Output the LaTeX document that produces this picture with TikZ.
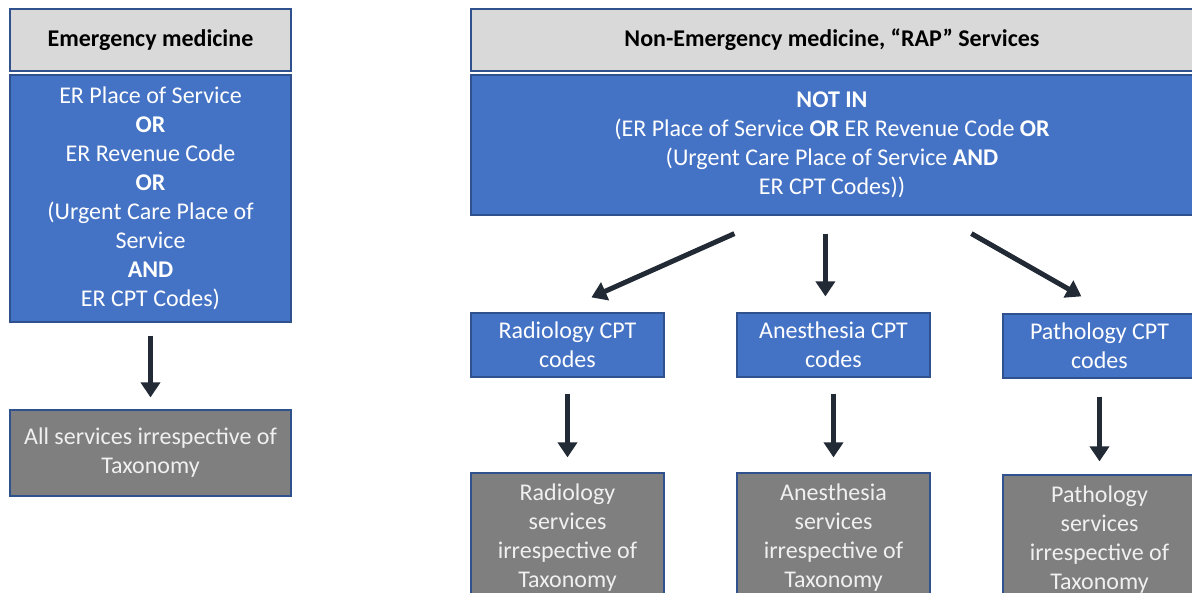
\documentclass[tikz,border=0pt]{standalone}
\usepackage{fontspec}
\setmainfont{Carlito}
\usepackage{tikz}
\usetikzlibrary{arrows.meta}
\usetikzlibrary{positioning}
\definecolor{hdrgray}{HTML}{D9D9D9}
\definecolor{accblue}{HTML}{4472C4}
\definecolor{servgray}{HTML}{7F7F7F}
\definecolor{edgeblue}{HTML}{2F528F}
\definecolor{arrdark}{HTML}{222A35}
\tikzset{
    box/.style={
        draw=edgeblue,
        line width=1.2pt,
        inner sep=0pt,
        align=center,
        font=\fontsize{24}{29}\selectfont
    },
    hdr/.style={box, fill=hdrgray, text=black, font=\fontsize{24}{29}\selectfont\bfseries},
    crit/.style={box, fill=accblue, text=white},
    serv/.style={box, fill=servgray, text=white!94!black},
    flow/.style={
        draw=arrdark,
        line width=5pt,
        -{Triangle[length=15pt, width=19pt]}
    }
}

\begin{document}
\begin{tikzpicture}[x=1pt, y=-1pt]
    \useasboundingbox (0,0) rectangle (1192,592);
    \clip (0,0) rectangle (1192,592);

    % emergency column
    \node[hdr, minimum width=281pt, minimum height=62pt] (emhead) at (150.5,40) {Emergency medicine};
    \node[crit, minimum width=281pt, minimum height=247pt] (emcrit) at (150.5,198.5) {ER Place of Service\\\textbf{OR}\\ER Revenue Code\\\textbf{OR}\\(Urgent Care Place of\\Service\\\textbf{AND}\\ER CPT Codes)};
    \node[serv, minimum width=281pt, minimum height=86pt] (emserv) at (150.5,453) {All services irrespective of\\Taxonomy};

    % non-emergency column
    \node[hdr, minimum width=722pt, minimum height=62pt] (rhead) at (832,40) {Non-Emergency medicine, “RAP” Services};
    \node[crit, minimum width=722pt, minimum height=140pt] (rcrit) at (832,145) {\textbf{NOT IN}\\(ER Place of Service \textbf{OR} ER Revenue Code \textbf{OR}\\(Urgent Care Place of Service \textbf{AND}\\ER CPT Codes))};

    \node[crit, minimum width=193pt, minimum height=64pt] (radcpt) at (567.5,345) {Radiology CPT\\codes};
    \node[crit, minimum width=193pt, minimum height=64pt] (anecpt) at (833.5,345) {Anesthesia CPT\\codes};
    \node[crit, minimum width=193pt, minimum height=64pt] (patcpt) at (1099.5,346) {Pathology CPT\\codes};

    \node[serv, minimum width=193pt, minimum height=130pt] (radserv) at (567.5,538) {Radiology\\services\\irrespective of\\Taxonomy};
    \node[serv, minimum width=193pt, minimum height=130pt] (aneserv) at (833.5,538) {Anesthesia\\services\\irrespective of\\Taxonomy};
    \node[serv, minimum width=193pt, minimum height=130pt] (patserv) at (1099.5,540) {Pathology\\services\\irrespective of\\Taxonomy};

    \draw[flow, shorten <=13pt, shorten >=12pt] (emcrit) -- (emserv);

    \draw[flow] ([xshift=264pt, yshift=-18pt]rcrit.south west) -- ([xshift=121pt, yshift=15pt]radcpt.north west);
    \draw[flow] ([xshift=355pt, yshift=-18pt]rcrit.south west) -- ([xshift=89pt, yshift=16pt]anecpt.north west);
    \draw[flow] ([xshift=501pt, yshift=-18pt]rcrit.south west) -- ([xshift=79pt, yshift=17pt]patcpt.north west);

    \draw[flow, shorten <=16pt, shorten >=15pt] (radcpt) -- (radserv);
    \draw[flow, shorten <=16pt, shorten >=15pt] (anecpt) -- (aneserv);
    \draw[flow, shorten <=18pt, shorten >=13pt] (patcpt) -- (patserv);
\end{tikzpicture}
\end{document}
